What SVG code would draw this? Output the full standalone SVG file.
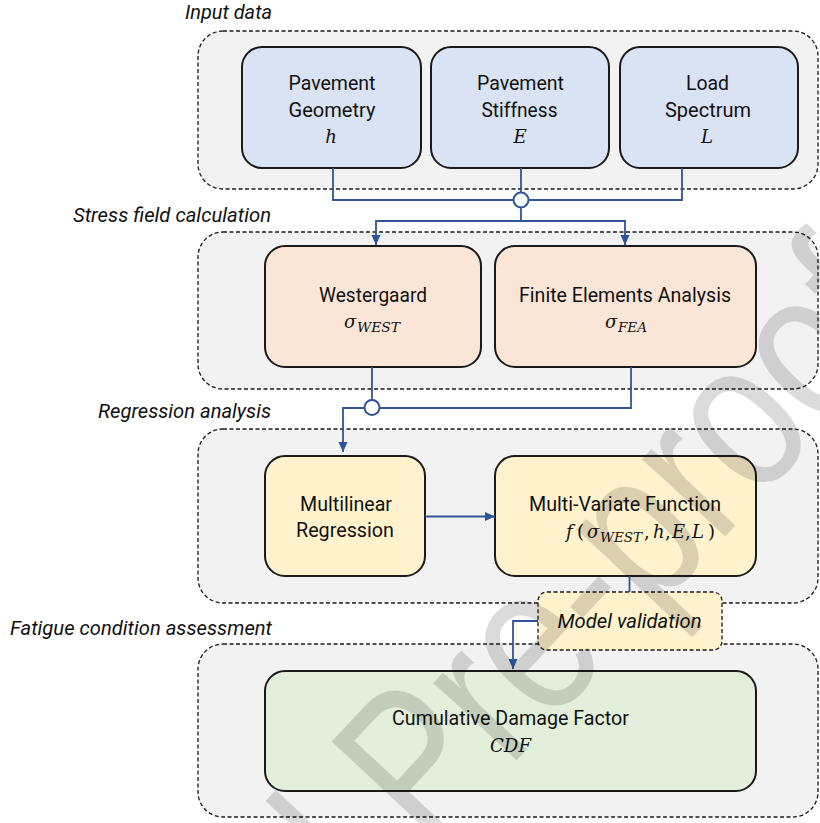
<svg xmlns="http://www.w3.org/2000/svg" width="820" height="823" viewBox="0 0 820 823">
<defs>
<style>
.cont{fill:#f2f2f2;stroke:#1a1a1a;stroke-width:1.3;stroke-dasharray:4 2.5}
.box{stroke:#1a1a1a;stroke-width:2}
.blue{fill:#dae3f3}.pink{fill:#fbe5d6}.yel{fill:#fff2cc}.grn{fill:#e2efda}
.lbl{font-family:Roboto,"Liberation Sans",sans-serif;font-size:20px;fill:#111;text-anchor:middle}
.grp{font-family:Roboto,"Liberation Sans",sans-serif;font-size:20px;font-style:italic;fill:#111;text-anchor:end}
.math{font-family:"DejaVu Serif","Liberation Serif",serif;font-size:18px;font-style:italic;fill:#111}
.sub{font-size:12px}
.mid{text-anchor:middle}
.up{font-style:normal}
</style>
<marker id="ah" viewBox="0 0 10 10" refX="10" refY="5" markerWidth="10" markerHeight="10" markerUnits="userSpaceOnUse" orient="auto">
<path d="M0,0.5 L10,5 L0,9.5 z" fill="#2f5597"/>
</marker>
</defs>
<rect width="820" height="823" fill="#fff"/>

<g id="containers">
<g id="grp-input"><rect class="cont" x="198" y="31" width="620" height="158" rx="25"/><text class="grp" x="272" y="19" textLength="87" lengthAdjust="spacingAndGlyphs">Input data</text></g>
<g id="grp-stress"><rect class="cont" x="198" y="232" width="620" height="157" rx="25"/><text class="grp" x="271" y="222" textLength="198" lengthAdjust="spacingAndGlyphs">Stress field calculation</text></g>
<g id="grp-regression"><rect class="cont" x="198" y="429" width="620" height="174" rx="25"/><text class="grp" x="271" y="418" textLength="173" lengthAdjust="spacingAndGlyphs">Regression analysis</text></g>
<g id="grp-fatigue"><rect class="cont" x="198" y="644" width="620" height="173" rx="25"/><text class="grp" x="272" y="635" textLength="262" lengthAdjust="spacingAndGlyphs">Fatigue condition assessment</text></g>
</g>

<g id="geometry"><rect class="box blue" x="242" y="47" width="179" height="121" rx="20"/>
<text class="lbl" x="332" y="90" textLength="87" lengthAdjust="spacingAndGlyphs">Pavement</text>
<text class="lbl" x="332" y="117" textLength="87" lengthAdjust="spacingAndGlyphs">Geometry</text>
<text class="math mid" x="331" y="143">h</text></g>

<g id="stiffness"><rect class="box blue" x="431" y="47" width="178" height="121" rx="20"/>
<text class="lbl" x="520.5" y="90" textLength="87" lengthAdjust="spacingAndGlyphs">Pavement</text>
<text class="lbl" x="519.5" y="117" textLength="76" lengthAdjust="spacingAndGlyphs">Stiffness</text>
<text class="math mid" x="520" y="143">E</text></g>

<g id="load"><rect class="box blue" x="620" y="47" width="178" height="121" rx="20"/>
<text class="lbl" x="707.5" y="90" textLength="43" lengthAdjust="spacingAndGlyphs">Load</text>
<text class="lbl" x="708" y="117" textLength="86" lengthAdjust="spacingAndGlyphs">Spectrum</text>
<text class="math mid" x="707" y="143">L</text></g>

<g id="westergaard"><rect class="box pink" x="265" y="246" width="216" height="121" rx="20"/>
<text class="lbl" x="373" y="302" textLength="108" lengthAdjust="spacingAndGlyphs">Westergaard</text>
<text class="math" x="344" y="328">σ<tspan class="sub" x="357" y="332" textLength="43" lengthAdjust="spacingAndGlyphs">WEST</tspan></text></g>

<g id="fea"><rect class="box pink" x="495" y="246" width="261" height="121" rx="20"/>
<text class="lbl" x="625" y="302" textLength="212" lengthAdjust="spacingAndGlyphs">Finite Elements Analysis</text>
<text class="math" x="605" y="328">σ<tspan class="sub" x="618" y="332" textLength="29" lengthAdjust="spacingAndGlyphs">FEA</tspan></text></g>

<g id="multilinear"><rect class="box yel" x="265" y="456" width="160" height="120" rx="20"/>
<text class="lbl" x="346" y="511" textLength="92" lengthAdjust="spacingAndGlyphs">Multilinear</text>
<text class="lbl" x="345" y="537" textLength="98" lengthAdjust="spacingAndGlyphs">Regression</text></g>

<g id="mvf"><rect class="box yel" x="495" y="456" width="261" height="120" rx="20"/>
<text class="lbl" x="625" y="511" textLength="192" lengthAdjust="spacingAndGlyphs">Multi-Variate Function</text>
<text class="math" y="538"><tspan x="566">f</tspan><tspan x="577" class="up">(</tspan><tspan x="587">σ</tspan><tspan class="sub" x="600" y="542" textLength="42" lengthAdjust="spacingAndGlyphs">WEST</tspan><tspan x="644" y="538" class="up">,</tspan><tspan x="653">h</tspan><tspan x="665" class="up">,</tspan><tspan x="672">E</tspan><tspan x="685" class="up">,</tspan><tspan x="692">L</tspan><tspan x="708" class="up">)</tspan></text></g>

<g id="cdf"><rect class="box grn" x="265" y="671" width="491" height="120" rx="20"/>
<text class="lbl" x="510.5" y="725" textLength="237" lengthAdjust="spacingAndGlyphs">Cumulative Damage Factor</text>
<text class="math" x="490" y="752" textLength="41" lengthAdjust="spacingAndGlyphs">CDF</text></g>

<g id="validation"><rect class="yel" x="538" y="592" width="184" height="58" rx="9" stroke="#1a1a1a" stroke-width="1.3" stroke-dasharray="4 2.5"/>
<text class="grp" x="701.5" y="628" textLength="144" lengthAdjust="spacingAndGlyphs">Model validation</text></g>

<g id="connectors" fill="none" stroke="#2f5597" stroke-width="1.8">
<path d="M333,168 V200 H682 V168"/>
<path d="M521,168 V221"/>
<path d="M521,221 H376 V245" marker-end="url(#ah)"/>
<path d="M521,221 H625 V245" marker-end="url(#ah)"/>
<path d="M372,367 V408"/>
<path d="M631,367 V408 H343 V452" marker-end="url(#ah)"/>
<path d="M425,516.5 H495" marker-end="url(#ah)"/>
<path d="M629.5,576 V592"/>
<path d="M538,621 H513 V669" marker-end="url(#ah)"/>
<circle cx="521" cy="200" r="7.5" fill="#fff" stroke-width="2"/>
<circle cx="372" cy="407.5" r="7.5" fill="#fff" stroke-width="2"/>
</g>

<g id="watermark">
<text transform="translate(12.9,1300.3) rotate(-47) scale(0.8,1)" font-family="'Liberation Sans',Arial,sans-serif" font-size="215" fill="#000" fill-opacity="0.14">Journal Pre-proof</text>
</g>
</svg>
